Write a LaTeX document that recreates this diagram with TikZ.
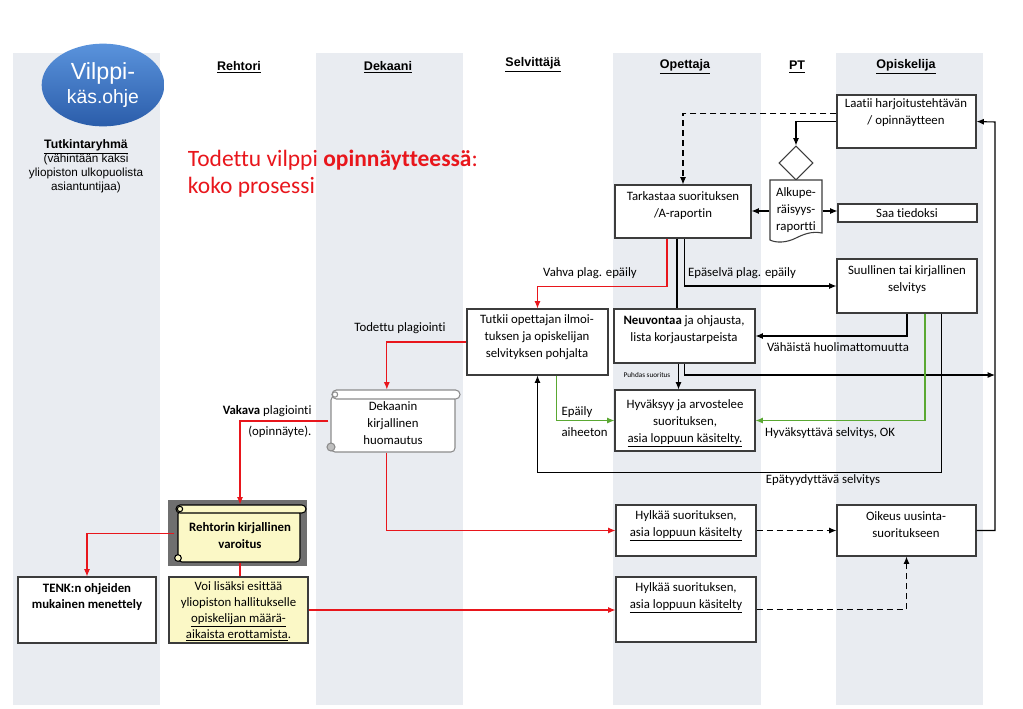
\documentclass[tikz,border=0pt]{standalone}
\usepackage{fontspec}
\setmainfont{Carlito}[Ligatures={NoCommon,TeX}]
\newfontfamily\arialfont{Liberation Sans}
\usetikzlibrary{shapes.geometric,arrows.meta,fit}

\definecolor{lanegray}{HTML}{E9ECF1}
\definecolor{flowred}{HTML}{E8161C}
\definecolor{flowgreen}{HTML}{5AA832}
\definecolor{noteyellow}{HTML}{FBF8C6}
\definecolor{boxline}{HTML}{3C3C3C}
\definecolor{scrollgray}{HTML}{8C8C8C}
\definecolor{backgray}{HTML}{6F6F6F}
\definecolor{ovaltop}{HTML}{5A93DC}
\definecolor{ovalbottom}{HTML}{2B5DAA}

\newcommand{\bodyfont}{\fontsize{9.6}{12.7}\selectfont}

\tikzset{
  head/.style={font=\arialfont\bfseries\fontsize{9.4}{11}\selectfont},
  box/.style={draw=boxline, fill=white, inner sep=0pt},
  note/.style={box, fill=noteyellow},
  txt/.style={align=center, font=\bodyfont, inner sep=0pt},
  lbl/.style={font=\bodyfont, inner sep=0pt},
  redline/.style={flowred, ->},
  greenline/.style={flowgreen, ->},
  dashline/.style={dash pattern=on 4.5pt off 3pt, ->},
}

\begin{document}
\begin{tikzpicture}[x=0.75pt, y=-0.75pt, line width=0.8pt,
    >={Latex[length=5.5pt,width=4.5pt]}]
    \useasboundingbox (0,0) rectangle (1023,708);

    % Swimlanes
    \fill[lanegray] (13,53) rectangle (160,705);
    \fill[lanegray] (316,53) rectangle (463,705);
    \fill[lanegray] (613,53) rectangle (761,705);
    \fill[lanegray] (836,53) rectangle (983,705);

    % Lane headers
    \node[head] (hreh) at (239,67) {\underline{Rehtori}};
    \node[head] (hdek) at (388,67) {\underline{Dekaani}};
    \node[head] (hsel) at (533,65) {\underline{Selvittäjä}};
    \node[head] (hope) at (685,67) {\underline{Opettaja}};
    \node[head] (hpt) at (797,67) {\underline{PT}};
    \node[head] (hopi) at (906,67) {\underline{Opiskelija}};

    % Oval, research group and title
    \node[ellipse, minimum width=92pt, minimum height=62pt, top color=ovaltop,
      bottom color=ovalbottom, text=white, align=center,
      font=\arialfont\fontsize{14}{17.5}\selectfont] (ohje) at (103,85)
      {{\fontsize{17.5}{17.5}\selectfont Vilppi-}\\{\fontsize{14.5}{17.5}\selectfont käs.ohje}};
    \node[align=center, font=\arialfont\fontsize{8.8}{10.5}\selectfont] (tutk) at (86,166.5)
      {{\bfseries\fontsize{9.2}{10.5}\selectfont\underline{Tutkintaryhmä}}\\(vähintään kaksi\\yliopiston ulkopuolista\\asiantuntijaa)};
    \node[align=left, anchor=west, text=flowred, font=\fontsize{17.6}{20.5}\selectfont] (title) at (183,173.5)
      {Todettu vilppi \textbf{opinnäytteessä}:\\koko prosessi};

    % Opiskelija
    \node[box, fit={(837,95) (976,148)}] (laatii) {};
    \node[txt] (tlaatii) at (906,113) {Laatii harjoitustehtävän\\/ opinnäytteen};
    \node[box, fit={(838,204) (977,222)}] (saa) {};
    \node[txt] (tsaa) at (907,213) {Saa tiedoksi};
    \node[box, fit={(837,259) (977,313)}] (suul) {};
    \node[txt] (tsuul) at (907,279.5) {Suullinen tai kirjallinen\\selvitys};
    \node[box, fit={(837,505) (976,556)}] (oik) {};
    \node[txt] (toik) at (906,525) {Oikeus uusinta-\\suoritukseen};

    % PT
    \node[diamond, draw=boxline, fill=white, minimum width=25.5pt, minimum height=25.5pt, inner sep=0pt] (dia) at (796,163) {};
    \draw[draw=boxline, fill=white] (770,180) -- (822,180) -- (822,233)
      .. controls (812,231) and (804,234) .. (796,238)
      .. controls (786,243) and (776,243) .. (770,240) -- cycle;
    \node[txt, fit={(770,180) (822,242)}] (doc) {};
    \node[txt, font=\fontsize{9.6}{13}\selectfont] (tdoc) at (796,210) {Alkupe-\\räisyys-\\raportti};

    % Opettaja
    \node[box, fit={(615,185) (751,238)}] (tark) {};
    \node[txt] (ttark) at (683,205.5) {Tarkastaa suorituksen\\/A-raportin};
    \node[box, fit={(614,309) (755,363)}] (neuv) {};
    \node[txt] (tneuv) at (684,329.5) {\textbf{Neuvontaa} ja ohjausta,\\lista korjaustarpeista};
    \node[box, fit={(615,390) (755,451)}] (hyv) {};
    \node[txt] (thyv) at (685,423.5) {Hyväksyy ja arvostelee\\suorituksen,\\\underline{asia loppuun käsitelty.}};
    \node[box, fit={(616,505) (756,556)}] (hyl1) {};
    \node[txt] (thyl1) at (686,525.5) {Hylkää suorituksen,\\\underline{asia loppuun käsitelty}};
    \node[box, fit={(616,577) (756,642)}] (hyl2) {};
    \node[txt] (thyl2) at (686,597.5) {Hylkää suorituksen,\\\underline{asia loppuun käsitelty}};

    % Selvittaja
    \node[box, fit={(467,309) (608,375)}] (tutkii) {};
    \node[txt] (ttutkii) at (537,337) {Tutkii opettajan ilmoi-\\tuksen ja opiskelijan\\selvityksen pohjalta};

    % Dekaani scroll
    \draw[scrollgray, fill=white, rounded corners=3pt] (331,396) rectangle (455,452);
    \draw[scrollgray, fill=white, rounded corners=3.3pt] (332,390) rectangle (460,399);
    \draw[scrollgray, fill=white] (335,394.5) circle[radius=2pt];
    \draw[scrollgray, fill=lightgray] (331,447) circle[radius=3pt];
    \node[txt, fit={(329,390) (458,452)}] (dek) {};
    \node[txt] (tdek) at (393,423) {Dekaanin\\kirjallinen\\huomautus};

    % Rehtori scroll
    \fill[backgray] (168,500) rectangle (307,566);
    \draw[black, fill=noteyellow, rounded corners=3pt] (178,510) rectangle (300,562);
    \draw[black, fill=noteyellow, rounded corners=3pt] (176,505) rectangle (306,513);
    \draw[black, fill=noteyellow] (180,509) circle[radius=2pt];
    \draw[black, fill=noteyellow] (178,558) circle[radius=2.5pt];
    \node[txt, fit={(175,505) (305,562)}] (reht) {};
    \node[txt, font=\bodyfont\bfseries] (treht) at (240,536) {Rehtorin kirjallinen\\varoitus};

    % Rehtori note and TENK
    \node[note, fit={(169,577) (308,643)}] (voi) {};
    \node[txt, font=\fontsize{9.6}{12}\selectfont] (tvoi) at (238.5,611)
      {Voi lisäksi esittää\\yliopiston hallitukselle\\\underline{opiskelijan määrä-}\\\underline{aikaista erottamista}.};
    \node[box, fit={(18,577) (156,643)}] (tenk) {};
    \node[txt, font=\bodyfont\bfseries] (ttenk) at (87,597) {TENK:n ohjeiden\\mukainen menettely};

    % Rail on the right
    \coordinate (railtop) at (995,122);
    \coordinate (railmid) at (995,375);

    % Submission and report
    \draw[dashline] ([yshift=6pt]laatii.west) -| (tark.north);
    \draw[->] (laatii.west) -| (dia.north);
    \draw[->] (doc.west) -- (tark.east |- doc.west);
    \draw[->] (doc.east) -- (saa.west |- doc.east);

    % Teacher checks
    \draw[redline] ([xshift=-12pt]tark.south) -- ++(0,48) -| (tutkii.north);
    \node[lbl] (lvahva) at (590,273) {Vahva plag. epäily};
    \draw ([xshift=-4.5pt]tark.south) -- ([xshift=-4.5pt]tark.south |- neuv.north);
    \draw[->] ([xshift=1pt]tark.south) |- (suul.west);
    \node[lbl] (lepas) at (742,273) {Epäselvä plag. epäily};
    \draw[->] ([xshift=-4.5pt]neuv.south) -- ([xshift=-4.5pt]neuv.south |- hyv.north);
    \node[font=\fontsize{5.4}{6}\selectfont, inner sep=0pt] (lpuhdas) at (647,375) {Puhdas suoritus};
    \draw[->] (neuv.south) |- (railmid);

    % Student explanation
    \draw[->] (suul.south) |- (neuv.east);
    \node[lbl] (lvah) at (838,347) {Vähäistä huolimattomuutta};
    \draw[greenline] ([xshift=13.5pt]suul.south) |- (hyv.east);
    \node[lbl] (lhyv) at (830,433) {Hyväksyttävä selvitys, OK};
    \draw[->] ([xshift=26pt]suul.south) -- ++(0,159) -| (tutkii.south);
    \node[lbl] (lepat) at (823,480) {Epätyydyttävä selvitys};

    % Investigator
    \draw[greenline] ([xshift=14pt]tutkii.south) |- (hyv.west);
    \node[lbl, anchor=west] (lepaily) at (561,412) {Epäily};
    \node[lbl, anchor=west] (laiheeton) at (561,432) {aiheeton};
    \draw[redline] (tutkii.west) -| ([xshift=-5pt]dek.north);
    \node[lbl] (ltodettu) at (400,328) {Todettu plagiointi};

    % Dean and rector
    \draw[redline] (dek.west) -| (reht.north);
    \node[lbl, anchor=east] (lvakava) at (312,411) {\textbf{Vakava} plagiointi};
    \node[lbl, anchor=east] (lopinn) at (312,432) {(opinnäyte).};
    \draw[redline] ([xshift=-5pt]dek.south) |- (hyl1.west);
    \draw[redline] (reht.west) -| (tenk.north);
    \draw[flowred] (reht.south) -- (reht.south |- voi.north);
    \draw[redline] (voi.east) -- (voi.east -| hyl2.west);

    % Resubmission
    \draw[dashline] (hyl1.east) -- (oik.west);
    \draw[dashline] (hyl2.east) -| (oik.south);
    \draw[->] (oik.east) -| (railtop) -- (laatii.east);
\end{tikzpicture}
\end{document}
